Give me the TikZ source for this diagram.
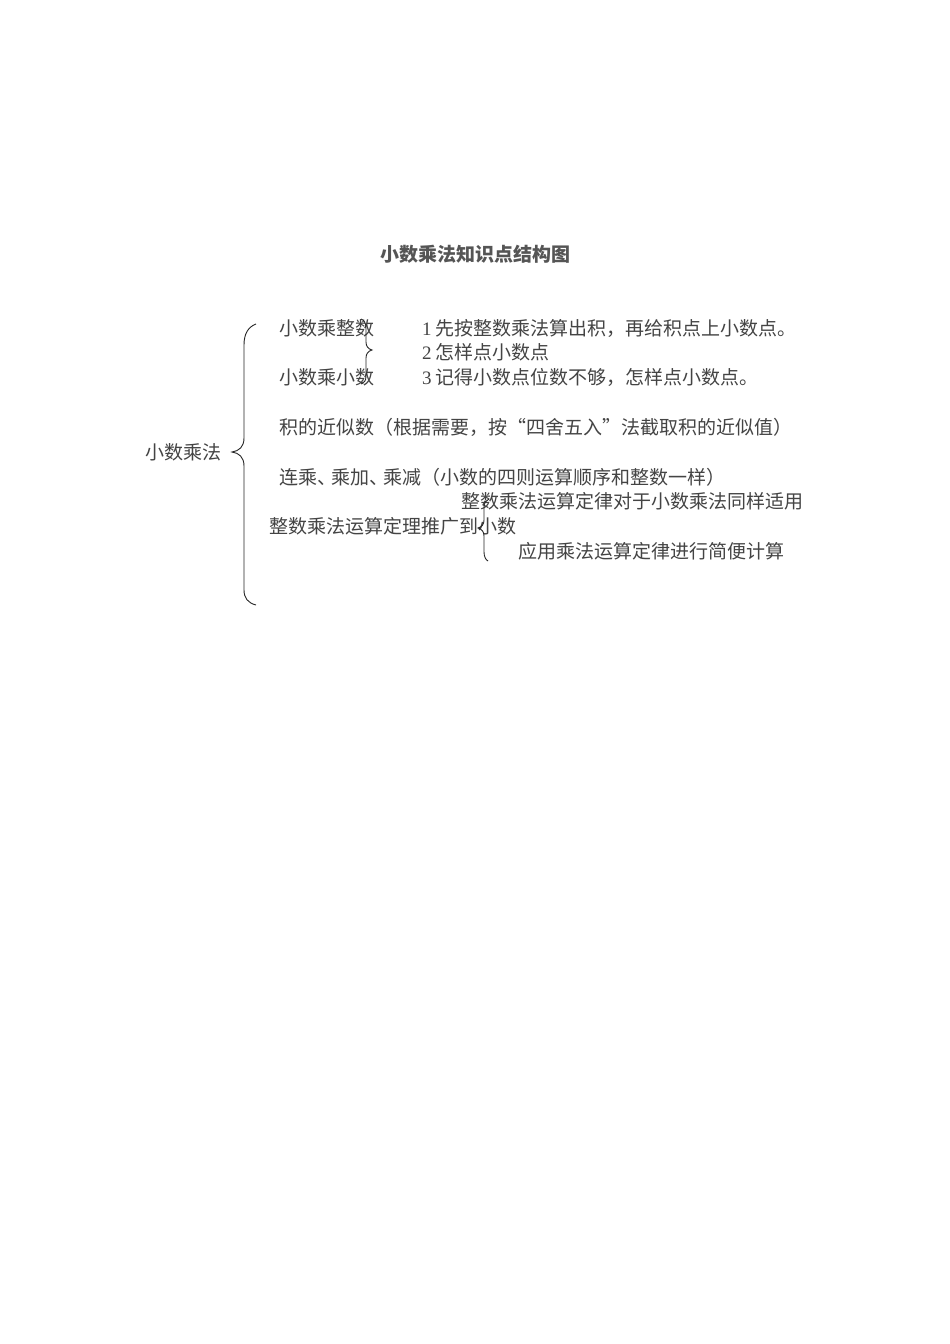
\documentclass[tikz,border=0pt]{standalone}
\usepackage{fontspec}
\setmainfont{Noto Sans CJK SC}
\newfontfamily\cjk{Noto Sans CJK SC}
\newfontfamily\dgt{Liberation Serif}
\newcommand{\num}[1]{{\dgt #1}\hspace{4pt}}
\newcommand{\narrowpunct}[1]{\makebox[14pt][l]{#1}}
\definecolor{txt}{RGB}{68,68,68}
\definecolor{ttl}{RGB}{85,85,85}
\begin{document}
\begin{tikzpicture}[x=1pt,y=-1pt,
  lbl/.style={anchor=west,inner sep=0pt,text=txt,font=\cjk\fontsize{19}{19}\selectfont},
  ttlstyle/.style={anchor=center,inner sep=0pt,text=ttl,font=\cjk\bfseries\fontsize{19}{19}\selectfont},
  brace/.style={draw=black!85,line width=0.9pt}]
\useasboundingbox[fill=white] (0,0) rectangle (950,1344);
\node[ttlstyle] (title) at (475,254) {小数乘法知识点结构图};
\node[lbl] (root) at (145,452) {小数乘法};
\node[lbl] (a1) at (279,328) {小数乘整数};
\node[lbl] (a2) at (279,377) {小数乘小数};
\node[lbl] (b1) at (422,328) {\num{1}先按整数乘法算出积，再给积点上小数点。};
\node[lbl] (b2) at (422,352) {\num{2}怎样点小数点};
\node[lbl] (b3) at (422,377) {\num{3}记得小数点位数不够，怎样点小数点。};
\node[lbl] (c) at (279,427) {积的近似数（根据需要，按“四舍五入”法截取积的近似值）};
\node[lbl] (d) at (279,477) {连乘\narrowpunct{、}乘加\narrowpunct{、}乘减（小数的四则运算顺序和整数一样）};
\node[lbl] (e1) at (461,501) {整数乘法运算定律对于小数乘法同样适用};
\node[lbl] (e) at (269,526) {整数乘法运算定理推广到小数};
\node[lbl] (e2) at (518,551) {应用乘法运算定律进行简便计算};
% big brace
\draw[brace] (256,324) .. controls (248,327) and (244,334) .. (244,345) -- (244,438)
  .. controls (244,447) and (239,451) .. (232,452)
  .. controls (239,453) and (244,457) .. (244,466) -- (244,590)
  .. controls (244,598) and (248,603) .. (256,605);
% small right brace
\draw[brace] (361,319) .. controls (364,320) and (366,323) .. (366,328) -- (366,342)
  .. controls (366,346) and (368,349) .. (372,350)
  .. controls (368,351) and (366,354) .. (366,358) -- (366,376)
  .. controls (366,381) and (364,383) .. (361,384);
% small left brace
\draw[brace] (489,499) .. controls (486,500) and (484,503) .. (484,507) -- (484,520)
  .. controls (484,524) and (482,527) .. (478,528)
  .. controls (482,529) and (484,532) .. (484,536) -- (484,552)
  .. controls (484,557) and (486,560) .. (488,561);
\end{tikzpicture}
\end{document}
